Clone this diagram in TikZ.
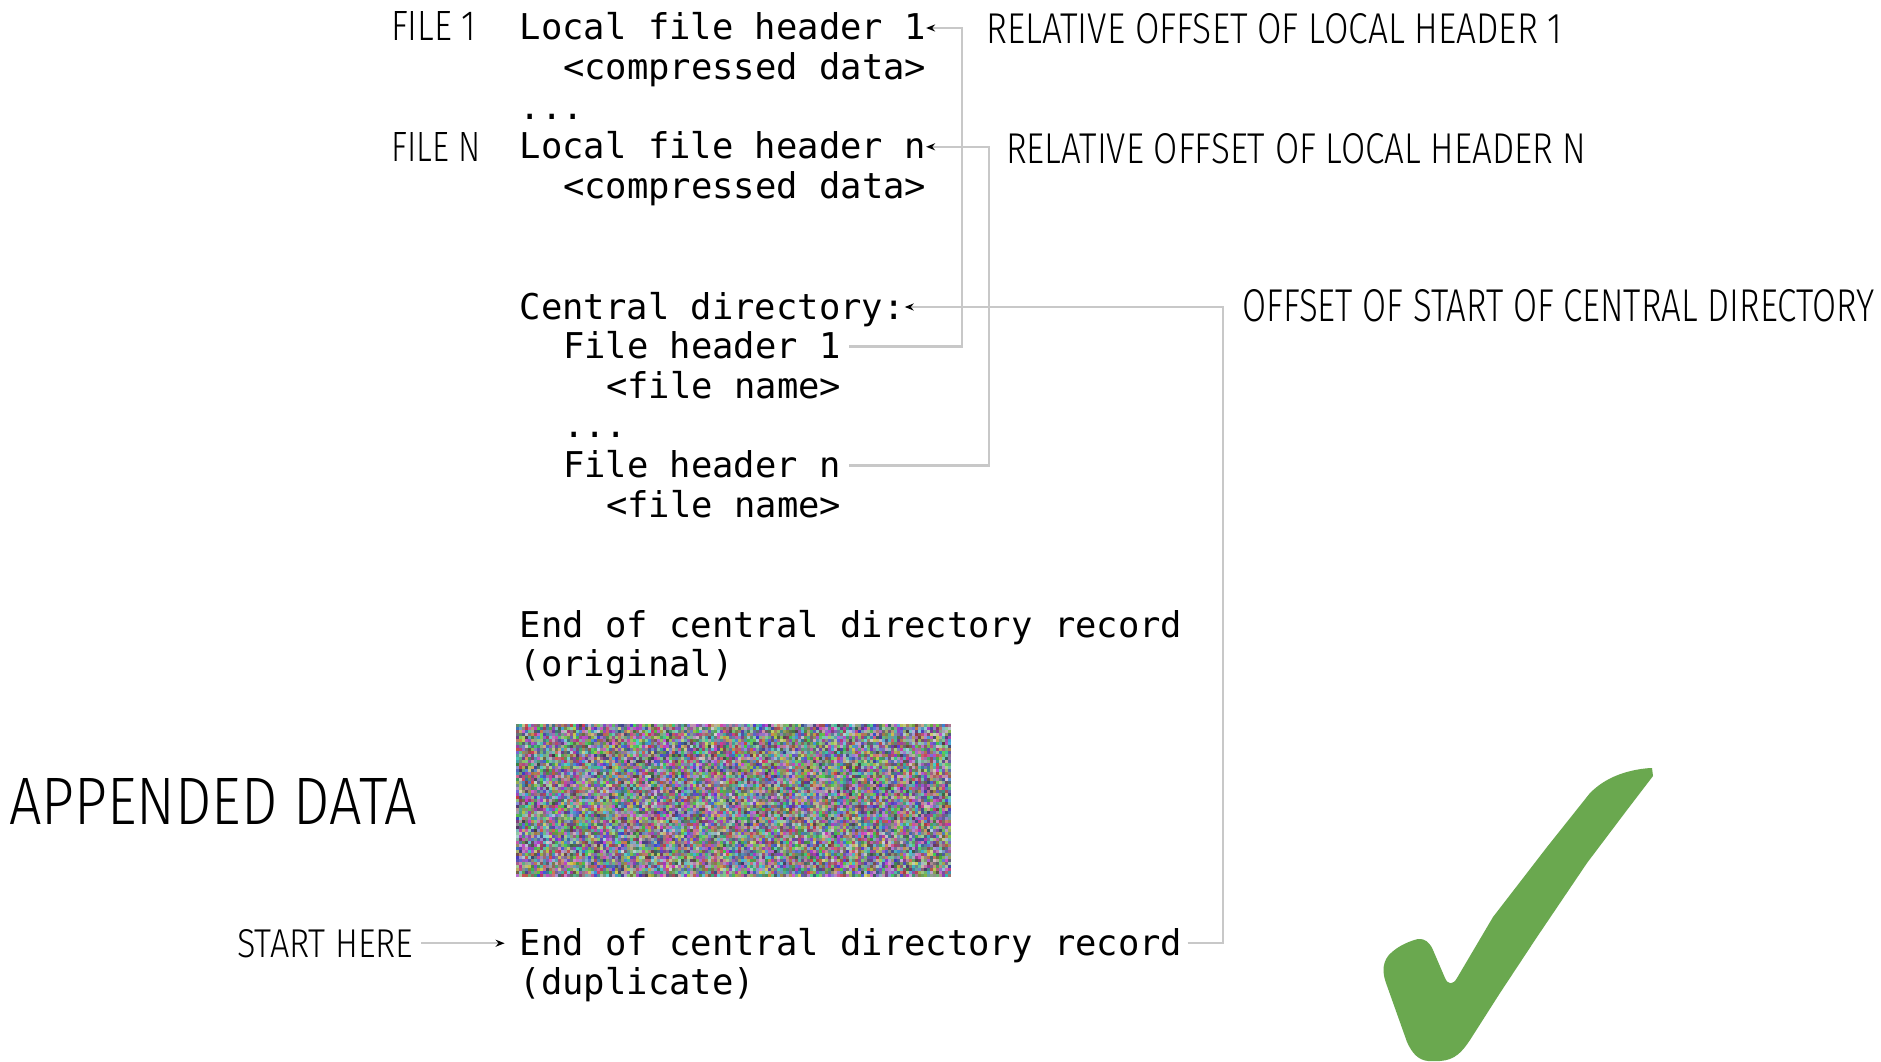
\documentclass[tikz,border=0pt]{standalone}
\usepackage{fontspec}
\usetikzlibrary{arrows.meta}
\setmonofont{DejaVu Sans Mono}
\IfFontExistsTF{Fira Sans Light}{\newfontfamily\hand{Fira Sans Light}}{\newfontfamily\hand{Fira Sans}}
\definecolor{conngray}{RGB}{200,200,200}
\definecolor{checkgreen}{RGB}{106,168,79}
\tikzset{
  mono/.style={anchor=base west, inner sep=0pt, font=\ttfamily\fontsize{35.5}{40}\selectfont, text height=24pt, text depth=0pt},
  hand/.style={anchor=base west, inner sep=0pt},
  conn/.style={draw=conngray, line width=2.5pt, -{Stealth[color=black,length=9pt,width=7pt]}},
}
\begin{document}
\begin{tikzpicture}[x=1pt,y=-1pt]
\useasboundingbox (0,0) rectangle (1881,1062);
\fill[white] (0,0) rectangle (1881,1062);

% monospace listing
\node[mono] (lf1) at (519.6,40) {Local file header 1};
\node[mono] (cd1) at (562.8,79.6) {<compressed data>};
\node[mono] (dots1) at (519.6,119.2) {...};
\node[mono] (lfn) at (519.6,158.8) {Local file header n};
\node[mono] (cdn) at (562.8,198.4) {<compressed data>};
\node[mono] (cdir) at (519.6,319) {Central directory:};
\node[mono] (fh1) at (562.8,358.6) {File header 1};
\node[mono] (fn1) at (606,398.2) {<file name>};
\node[mono] (dots2) at (562.8,437.8) {...};
\node[mono] (fhn) at (562.8,477.4) {File header n};
\node[mono] (fnn) at (606,517) {<file name>};
\node[mono] (eocd) at (519.6,637) {End of central directory record};
\node[mono] (orig) at (519.6,676.6) {(original)};
\node[mono] (eocdd) at (519.6,955) {End of central directory record};
\node[mono] (dup) at (519.6,994.6) {(duplicate)};

% hand labels
\node[hand] (f1) at (391,41) {\resizebox{85pt}{29pt}{\hand FILE 1}};
\node[hand] (fN) at (391,161) {\resizebox{89pt}{29pt}{\hand FILE N}};
\node[hand] (rel1) at (986,44) {\resizebox{576pt}{30pt}{\hand RELATIVE OFFSET OF LOCAL HEADER 1}};
\node[hand] (relN) at (1006,164) {\resizebox{580pt}{30pt}{\hand RELATIVE OFFSET OF LOCAL HEADER N}};
\node[hand] (osc) at (1242,321) {\resizebox{632pt}{32pt}{\hand OFFSET OF START OF CENTRAL DIRECTORY}};
\node[hand] (app) at (9,824) {\resizebox{408pt}{46pt}{\hand APPENDED DATA}};
\node[hand] (sh) at (237,957) {\resizebox{176pt}{28pt}{\hand START HERE}};

% noise block
\node[inner sep=0pt, minimum width=436pt, minimum height=152pt, anchor=north west] (noise) at (516,724) {};
\pgfmathsetseed{4242}
\foreach \i in {0,...,144}{
  \foreach \j in {0,...,50}{
    \pgfmathsetmacro\rr{0.22+0.6*rnd}
    \pgfmathsetmacro\gg{0.22+0.6*rnd}
    \pgfmathsetmacro\bb{0.25+0.6*rnd}
    \definecolor{nz}{rgb}{\rr,\gg,\bb}
    \fill[nz] (516+3*\i,724+3*\j) rectangle ++(3.05,3.05);
  }
}

% connectors
\coordinate (v1) at (962,0);
\coordinate (v2) at (989,0);
\coordinate (v3) at (1223,0);
\draw[conn, shorten <=8pt] (fh1.east) -| (v1 |- lf1.east) -- (lf1.east);
\draw[conn, shorten <=8pt] (fhn.east) -| (v2 |- lfn.east) -- (lfn.east);
\draw[conn, shorten <=5pt] (eocdd.east) -| (v3 |- cdir.east) -- (cdir.east);
\draw[conn, shorten <=8pt, shorten >=15pt] (sh.east) -- (sh.east -| eocdd.west);

% check mark
\fill[checkgreen] (1652,768) -- (1653,776) -- (1627,810) -- (1587,863) -- (1537,937) -- (1500,993) -- (1470,1040)
  .. controls (1462,1052) and (1455,1060) .. (1440,1061) -- (1428,1061)
  .. controls (1418,1060) and (1412,1053) .. (1407,1042) -- (1386,983)
  .. controls (1382,972) and (1382,960) .. (1392,952)
  .. controls (1400,945) and (1410,941) .. (1418,939)
  .. controls (1425,938) and (1430,943) .. (1433,950) -- (1445,978)
  .. controls (1448,985) and (1453,985) .. (1457,978) -- (1493,917) -- (1547,847) -- (1590,793)
  .. controls (1605,778) and (1625,770) .. (1650,768) -- cycle;
\end{tikzpicture}
\end{document}
